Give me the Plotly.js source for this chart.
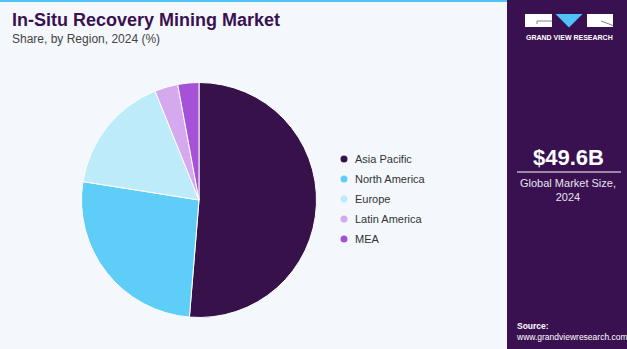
<!DOCTYPE html>
<html>
<head>
<meta charset="utf-8">
<script src="https://cdn.plot.ly/plotly-3.0.1.min.js"></script>
<style>
html,body{margin:0;padding:0;background:#F4F8FC;}
#chart{width:627px;height:349px;}
</style>
</head>
<body>
<div id="chart"></div>
<script>
// Data
const categories = ["Asia Pacific", "North America", "Europe", "Latin America", "MEA"];
const shares = [51.3, 26.2, 16.4, 3.2, 2.9];
const colors = ["#37114A", "#5ECDF8", "#BEEBFA", "#D5A9EE", "#A552D8"];
const titleText = "In-Situ Recovery Mining Market";
const subtitleText = "Share, by Region, 2024 (%)";
const marketSize = "$49.6B";
const marketLabel = "Global Market Size,<br>2024";

const W = 627, H = 349;
const px = x => x / W;
const py = y => 1 - y / H;

const cx = 199, cy = 200, r = 117.5;

const trace = {
  type: "pie",
  labels: categories,
  values: shares,
  sort: false,
  direction: "clockwise",
  rotation: 0,
  textinfo: "none",
  hoverinfo: "label+percent",
  marker: {colors: colors, line: {color: "#FFFFFF", width: 1}},
  domain: {x: [px(cx - r), px(cx + r)], y: [py(cy + r), py(cy - r)]},
  showlegend: false
};

const shapes = [
  // right panel
  {type: "rect", xref: "paper", yref: "paper", x0: px(507), x1: 1, y0: 0, y1: 1, fillcolor: "#3A1150", line: {width: 0}, layer: "below"},
  // top accent line
  {type: "rect", xref: "paper", yref: "paper", x0: 0, x1: px(507), y0: py(2), y1: 1, fillcolor: "#4FC3F7", line: {width: 0}},
  // divider under market size
  {type: "line", xref: "paper", yref: "paper", x0: px(517), x1: px(621), y0: py(172), y1: py(172), line: {color: "#FFFFFF", width: 1}},
  // logo: left block
  {type: "rect", xref: "paper", yref: "paper", x0: px(525), x1: px(552), y0: py(27), y1: py(14), fillcolor: "#FFFFFF", line: {width: 0}},
  {type: "path", xref: "paper", yref: "paper", path: `M ${px(537)} ${py(24)} L ${px(537)} ${py(21)} L ${px(552)} ${py(21)}`, line: {color: "#8A7A95", width: 1}},
  // logo: triangle
  {type: "path", xref: "paper", yref: "paper", path: `M ${px(555.5)} ${py(14)} L ${px(582.5)} ${py(14)} L ${px(569)} ${py(27.5)} Z`, fillcolor: "#4FC3F7", line: {width: 0}},
  // logo: right block
  {type: "rect", xref: "paper", yref: "paper", x0: px(587), x1: px(613), y0: py(27), y1: py(14), fillcolor: "#FFFFFF", line: {width: 0}},
  {type: "path", xref: "paper", yref: "paper", path: `M ${px(601)} ${py(21)} L ${px(613)} ${py(25.5)}`, line: {color: "#8A7A95", width: 1}}
];

const annotations = [
  {text: "<b>" + titleText + "</b>", x: px(10), y: py(20.5), xanchor: "left", yanchor: "middle", showarrow: false, xref: "paper", yref: "paper",
   font: {family: "Liberation Sans, Arial, sans-serif", size: 18, color: "#3A1150"}},
  {text: subtitleText, x: px(10), y: py(39), xanchor: "left", yanchor: "middle", showarrow: false, xref: "paper", yref: "paper",
   font: {family: "Liberation Sans, Arial, sans-serif", size: 12, color: "#444444"}},
  {text: "<b>GRAND VIEW RESEARCH</b>", x: px(569), y: py(37.5), xanchor: "center", yanchor: "middle", showarrow: false, xref: "paper", yref: "paper",
   font: {family: "Liberation Sans, Arial, sans-serif", size: 7, color: "#FFFFFF"}},
  {text: "<b>" + marketSize + "</b>", x: px(568), y: py(157), xanchor: "center", yanchor: "middle", showarrow: false, xref: "paper", yref: "paper",
   font: {family: "Liberation Sans, Arial, sans-serif", size: 22, color: "#FFFFFF"}},
  {text: marketLabel, x: px(568), y: py(190), xanchor: "center", yanchor: "middle", showarrow: false, xref: "paper", yref: "paper",
   font: {family: "Liberation Sans, Arial, sans-serif", size: 11, color: "#E8E2EE"}},
  {text: "<b>Source:</b><br>www.grandviewresearch.com", align: "left", x: px(514), y: py(331), xanchor: "left", yanchor: "middle", showarrow: false, xref: "paper", yref: "paper",
   font: {family: "Liberation Sans, Arial, sans-serif", size: 8.5, color: "#FFFFFF"}}
];

// custom legend with circle markers
categories.forEach((c, i) => {
  const yy = 159 + i * 20;
  shapes.push({type: "circle", xref: "paper", yref: "paper", x0: px(340.5), x1: px(347.5), y0: py(yy + 3.5), y1: py(yy - 3.5),
    fillcolor: colors[i], line: {width: 0}});
  annotations.push({text: c, x: px(352.5), y: py(yy), xanchor: "left", yanchor: "middle", showarrow: false, xref: "paper", yref: "paper",
    font: {family: "Liberation Sans, Arial, sans-serif", size: 11, color: "#333333"}});
});

const layout = {
  width: W, height: H,
  margin: {l: 0, r: 0, t: 0, b: 0},
  paper_bgcolor: "#F4F8FC",
  plot_bgcolor: "#F4F8FC",
  showlegend: false,
  shapes: shapes,
  annotations: annotations
};

Plotly.newPlot("chart", [trace], layout, {displayModeBar: false, staticPlot: true});
</script>
</body>
</html>
